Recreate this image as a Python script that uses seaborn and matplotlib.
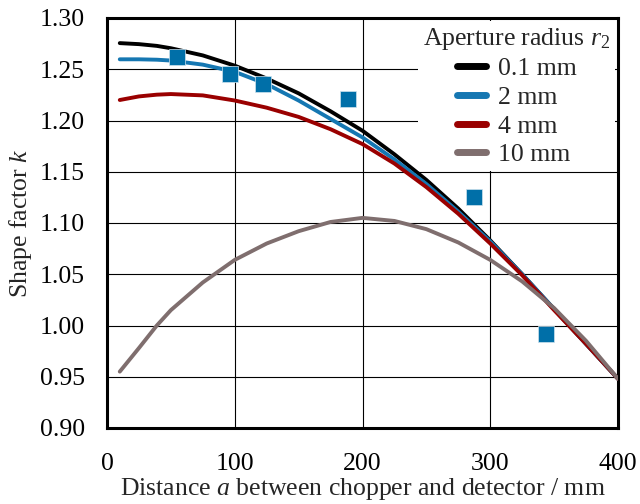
import numpy as np
import pandas as pd
import matplotlib
matplotlib.use("Agg")
import matplotlib.pyplot as plt
import seaborn as sns

# ---- data ----
distance = [10, 25, 39, 50, 75, 100, 125, 150, 175, 200, 225, 250, 275, 300, 325, 350, 375, 400]
k_01mm = [1.2755, 1.2745, 1.2728, 1.2705, 1.2635, 1.2535, 1.241, 1.2265, 1.209, 1.190, 1.167, 1.142, 1.114, 1.083, 1.050, 1.016, 0.982, 0.948]
k_2mm = [1.2597, 1.2597, 1.2593, 1.2585, 1.2545, 1.2475, 1.2355, 1.2195, 1.2015, 1.1835, 1.162, 1.138, 1.111, 1.082, 1.050, 1.016, 0.982, 0.948]
k_4mm = [1.2200, 1.2235, 1.2252, 1.2258, 1.2245, 1.2195, 1.2125, 1.2035, 1.1915, 1.1770, 1.158, 1.135, 1.109, 1.080, 1.049, 1.015, 0.982, 0.948]
k_10mm = [0.955, 0.978, 1.000, 1.015, 1.042, 1.064, 1.080, 1.092, 1.101, 1.105, 1.102, 1.094, 1.081, 1.064, 1.043, 1.017, 0.985, 0.948]
radius_labels = ["0.1 mm", "2 mm", "4 mm", "10 mm"]
meas_distance = [55, 96, 122, 189, 287, 344]
meas_k = [1.262, 1.245, 1.236, 1.221, 1.125, 0.992]

colors = ["#000000", "#1577B2", "#9A0000", "#7F6E6E"]

rows = []
for lab, vals in zip(radius_labels, [k_01mm, k_2mm, k_4mm, k_10mm]):
    for d, v in zip(distance, vals):
        rows.append({"a": d, "k": v, "r": lab})
df = pd.DataFrame(rows)
meas = pd.DataFrame({"a": meas_distance, "k": meas_k})

sns.set_style("white")
plt.rcParams["font.family"] = ["Liberation Serif", "DejaVu Serif"]
plt.rcParams["mathtext.fontset"] = "custom"
plt.rcParams["mathtext.rm"] = "Liberation Serif"
plt.rcParams["mathtext.it"] = "Liberation Serif:italic"

fs = 18.5
fig = plt.figure(figsize=(6.4, 5.04), dpi=100)
ax = fig.add_axes([107/640, 76/504, 511/640, 410/504])

sns.lineplot(data=df, x="a", y="k", hue="r", hue_order=radius_labels,
             palette=colors, linewidth=2.8, ax=ax, sort=True, zorder=3)
sns.scatterplot(data=meas, x="a", y="k", marker="s", s=135, color="#006FA8",
                edgecolor="#CFE3EE", linewidth=0.5, ax=ax, zorder=5, legend=False)

ax.set_xlim(0, 400)
ax.set_ylim(0.90, 1.30)
ax.set_xticks([0, 100, 200, 300, 400])
ax.set_yticks(np.arange(0.90, 1.301, 0.05))
ax.set_yticklabels([f"{v:.2f}" for v in np.arange(0.90, 1.301, 0.05)])
ax.grid(True, color="black", linewidth=0.8)
ax.set_axisbelow(True)
for sp in ax.spines.values():
    sp.set_visible(True)
    sp.set_color("black")
    sp.set_linewidth(2.2)
ax.tick_params(axis="both", length=0, labelsize=fs, colors="black")
ax.tick_params(axis="x", pad=18)
ax.tick_params(axis="y", pad=16)
ax.set_xlabel("Distance $a$ between chopper and detector / mm", fontsize=fs, labelpad=1)
ax.set_ylabel("Shape factor $k$", fontsize=fs, labelpad=4)

leg = ax.legend(title="Aperture radius $r_2$", loc="upper right", fontsize=fs,
                title_fontsize=fs, frameon=True, fancybox=False, borderaxespad=0.1,
                handlelength=1.15, handletextpad=0.45, labelspacing=0.22,
                borderpad=0.2)
leg.get_frame().set_edgecolor("none")
leg.get_frame().set_facecolor("white")
leg.get_frame().set_alpha(1)
for h in leg.legend_handles:
    h.set_linewidth(5)
leg.set_zorder(10)

fig.savefig("out.png", dpi=100)
